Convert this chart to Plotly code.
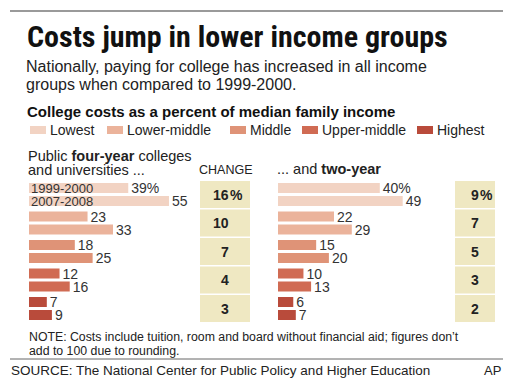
import plotly.graph_objects as go

# ---------------- data ----------------
groups = ["Lowest", "Lower-middle", "Middle", "Upper-middle", "Highest"]
colors = ["#f2d3c3", "#ebb39b", "#df9377", "#d06b53", "#b94b3b"]
four_1999 = [39, 23, 18, 12, 7]
four_2007 = [55, 33, 25, 16, 9]
four_change = [16, 10, 7, 4, 3]
two_1999 = [40, 22, 15, 10, 6]
two_2007 = [49, 29, 20, 13, 7]
two_change = [9, 7, 5, 3, 2]
years = ["1999-2000", "2007-2008"]

W, H = 512, 390
FONT = "Liberation Sans, Arial, Helvetica, sans-serif"
TFONT = "Roboto Condensed, Open Sans Condensed, Liberation Sans, sans-serif"
TXT = "#222222"
BOX = "#efe8c2"


def fx(px):
    return px / W


def fy(py):
    return 1 - py / H


idx = list(range(len(groups)))
SCALE = 2.545  # px per percentage point
XR = 60
BAR_W = 10 / 28.5
OFF1 = -11.5 / 28.5
OFF2 = 1.5 / 28.5


def labels(vals, pct):
    return [f"{v}%" if (pct and i == 0) else f"{v}" for i, v in enumerate(vals)]


fig = go.Figure()


def add_bars(xa, v1, v2):
    for vals, off, pct in ((v1, OFF1, True), (v2, OFF2, False)):
        fig.add_trace(go.Bar(
            x=vals, y=idx, orientation="h", xaxis=xa, yaxis="y",
            width=[BAR_W] * len(vals), offset=[off] * len(vals),
            marker=dict(color=colors, line=dict(width=0)),
            text=labels(vals, pct), textposition="outside",
            textfont=dict(family=FONT, size=14, color="#333333"),
            constraintext="none", cliponaxis=False, hoverinfo="skip",
            showlegend=False,
        ))


def add_change(xa, vals):
    fig.add_trace(go.Bar(
        x=[1] * len(vals), y=idx, orientation="h", xaxis=xa, yaxis="y",
        width=[0.94] * len(vals), marker=dict(color=BOX, line=dict(width=0)),
        hoverinfo="skip", showlegend=False,
    ))


add_bars("x", four_1999, four_2007)
add_bars("x2", two_1999, two_2007)
add_change("x3", four_change)
add_change("x4", two_change)

ydom = [fy(194.5 + 28.5 * 4.5), fy(194.5 - 28.5 * 0.5)]
ax = dict(visible=False, fixedrange=True)
fig.update_layout(
    width=W, height=H, margin=dict(l=0, r=0, t=0, b=0),
    paper_bgcolor="white", plot_bgcolor="rgba(0,0,0,0)",
    barmode="overlay",
    xaxis=dict(domain=[fx(29), fx(29 + SCALE * XR)], range=[0, XR], anchor="y", **ax),
    xaxis2=dict(domain=[fx(278), fx(278 + SCALE * XR)], range=[0, XR], anchor="y", **ax),
    xaxis3=dict(domain=[fx(200), fx(250)], range=[0, 1], anchor="y", **ax),
    xaxis4=dict(domain=[fx(455), fx(495)], range=[0, 1], anchor="y", **ax),
    yaxis=dict(domain=ydom, range=[len(groups) - 0.5, -0.5], **ax),
)

ann = []


def text(x, y, s, size, bold=False, family=FONT, color=TXT, anchor="left"):
    if bold:
        s = f"<b>{s}</b>"
    ann.append(dict(x=fx(x), y=fy(y), xref="paper", yref="paper", text=s,
                    showarrow=False, xanchor=anchor, yanchor="middle", borderpad=0,
                    font=dict(family=family, size=size, color=color)))


text(26, 36, "Costs jump in lower income groups", 30, bold=True, family=TFONT, color="#111111")
text(25, 66, "Nationally, paying for college has increased in all income", 16)
text(25, 84, "groups when compared to 1999-2000.", 16)
text(26, 112, "College costs as a percent of median family income", 15, bold=True, color="#111111")

# legend
sw_x = [30, 107, 230, 302, 417]
for i, g in enumerate(groups):
    text(sw_x[i] + 19, 130, g, 14)

text(27, 156, "Public <b>four-year</b> colleges", 14.5)
text(27, 169.5, "and universities ...", 14.5)
text(225, 170, "CHANGE", 12.5, anchor="center")
text(276, 169, "... and <b>two-year</b>", 14.5)

# year labels inside first bars
for yr, off in zip(years, (OFF1, OFF2)):
    ann.append(dict(x=0, y=idx[0] + off + BAR_W / 2, xref="x", yref="y", text=yr,
                    showarrow=False, xanchor="left", yanchor="middle", xshift=1, borderpad=0,
                    font=dict(family=FONT, size=13, color="#333333")))

# change values
for xa, vals, xr in (("x3", four_change, 230), ("x4", two_change, 480)):
    for i, v in enumerate(vals):
        ann.append(dict(x=fx(xr), y=i, xref="paper", yref="y", text=f"<b>{v}</b>",
                        showarrow=False, xanchor="right", yanchor="middle", borderpad=0,
                        font=dict(family=FONT, size=14, color="#222222")))
    ann.append(dict(x=fx(xr), y=0, xref="paper", yref="y", text="<b>%</b>",
                    showarrow=False, xanchor="left", yanchor="middle", xshift=-1, borderpad=0,
                    font=dict(family=FONT, size=14, color="#222222")))

text(28, 337, "NOTE: Costs include tuition, room and board without financial aid; figures don’t", 12.3)
text(28, 351, "add to 100 due to rounding.", 12.3)
text(10, 370, "SOURCE: The National Center for Public Policy and Higher Education", 13.5)
text(502, 370, "AP", 13, anchor="right")

fig.update_layout(annotations=ann)

shapes = [
    dict(type="line", xref="paper", yref="paper", x0=fx(10), x1=fx(503), y0=fy(11), y1=fy(11),
         line=dict(color="#9a9a9a", width=2)),
    dict(type="line", xref="paper", yref="paper", x0=fx(10), x1=fx(503), y0=fy(359), y1=fy(359),
         line=dict(color="#666666", width=1)),
]
for i, c in enumerate(colors):
    shapes.append(dict(type="rect", xref="paper", yref="paper",
                       x0=fx(sw_x[i]), x1=fx(sw_x[i] + 16), y0=fy(134), y1=fy(126),
                       fillcolor=c, line=dict(color=c, width=0)))
fig.update_layout(shapes=shapes)

fig.write_html("out.html", config={"displayModeBar": False},
               post_script="document.body.style.margin='0';")
